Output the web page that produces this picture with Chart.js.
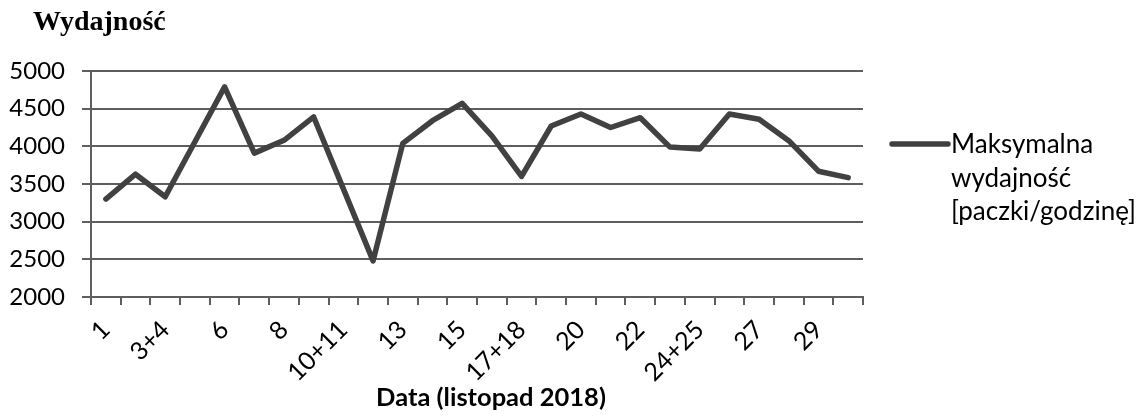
<!DOCTYPE html>
<html>
<head>
<meta charset="utf-8">
<script src="https://cdn.jsdelivr.net/npm/chart.js@4.4.1/dist/chart.umd.min.js"></script>
<style>
  html, body { margin: 0; padding: 0; background: #ffffff; }
  #wrap { width: 1141px; height: 416px; position: relative; }
</style>
</head>
<body>
<div id="wrap"><canvas id="chart" width="1141" height="416"></canvas></div>
<script>
// Days of November 2018 (weekends merged into one entry)
const categories = ['1', '2', '3+4', '5', '6', '7', '8', '9', '10+11', '12', '13', '14', '15',
  '16', '17+18', '19', '20', '21', '22', '23', '24+25', '26', '27', '28', '29', '30'];

// Maximum throughput per day [parcels/hour]
const maxThroughput = [3300, 3630, 3330, 4060, 4790, 3910, 4080, 4390, 3435, 2480, 4040, 4340, 4570,
  4140, 3600, 4270, 4430, 4250, 4380, 3990, 3965, 4430, 4360, 4075, 3670, 3585];

// Value axis ticks
const yTicks = [2000, 2500, 3000, 3500, 4000, 4500, 5000];

// Chart heading, axis caption and series name (split over three lines in the legend)
const headline = 'Wydajność';
const xCaption = 'Data (listopad 2018)';
const seriesLabelLines = ['Maksymalna', 'wydajność', '[paczki/godzinę]'];

const AXIS_GREY = '#5e5e5e';
const LINE_GREY = '#414141';
const SANS = 'Lato, "Noto Sans", sans-serif';

// Heading in the top-left corner and the caption under the category axis
const captionsPlugin = {
  id: 'captions',
  afterDraw(chart) {
    const { ctx, chartArea } = chart;
    ctx.save();
    ctx.fillStyle = '#000000';
    ctx.font = 'bold 28px "Liberation Serif", "Times New Roman", serif';
    ctx.textAlign = 'left';
    ctx.textBaseline = 'alphabetic';
    ctx.fillText(headline, 33, 30);

    ctx.font = 'bold 25.5px ' + SANS;
    ctx.textAlign = 'center';
    ctx.textBaseline = 'middle';
    ctx.fillText(xCaption, (chartArea.left + chartArea.right) / 2 + 14, 398);
    ctx.restore();
  }
};

// Legend on the right: a line sample followed by a three-line caption
const sideLegend = {
  id: 'sideLegend',
  afterDraw(chart) {
    const { ctx, chartArea } = chart;
    const ds = chart.data.datasets[0];
    const x0 = chartArea.right + 29;
    const x1 = x0 + 56;
    const yMid = chartArea.top + 73;
    ctx.save();
    ctx.strokeStyle = ds.borderColor;
    ctx.lineWidth = ds.borderWidth;
    ctx.lineCap = 'round';
    ctx.beginPath();
    ctx.moveTo(x0, yMid);
    ctx.lineTo(x1, yMid);
    ctx.stroke();
    ctx.fillStyle = '#000000';
    ctx.font = '26px ' + SANS;
    ctx.textBaseline = 'middle';
    ctx.textAlign = 'left';
    seriesLabelLines.forEach((line, i) => {
      ctx.fillText(line, x1 + 3, yMid + 1 + i * 33.5);
    });
    ctx.restore();
  }
};

new Chart(document.getElementById('chart'), {
  type: 'line',
  data: {
    labels: categories,
    datasets: [{
      label: seriesLabelLines.join(' '),
      data: maxThroughput,
      borderColor: LINE_GREY,
      backgroundColor: LINE_GREY,
      borderWidth: 5.5,
      borderJoinStyle: 'round',
      borderCapStyle: 'round',
      pointRadius: 0,
      pointHoverRadius: 0,
      tension: 0,
      fill: false
    }]
  },
  options: {
    responsive: false,
    animation: false,
    devicePixelRatio: 1,
    layout: { padding: { left: 0, right: 278, top: 71, bottom: 0 } },
    plugins: {
      legend: { display: false },
      tooltip: { enabled: false },
      title: { display: false }
    },
    scales: {
      x: {
        type: 'category',
        offset: true,
        afterFit(scale) { scale.height = 119; },
        grid: {
          offset: true,
          drawOnChartArea: false,
          drawTicks: true,
          tickLength: 8,
          color: AXIS_GREY,
          lineWidth: 2
        },
        border: { display: true, color: AXIS_GREY, width: 2 },
        ticks: {
          autoSkip: false,
          maxRotation: 45,
          minRotation: 45,
          padding: 10,
          color: '#000000',
          font: { family: SANS, size: 25 },
          callback(value, index) {
            return index % 2 === 0 ? categories[index] : '';
          }
        }
      },
      y: {
        min: yTicks[0],
        max: yTicks[yTicks.length - 1],
        afterFit(scale) { scale.width = 91; },
        afterBuildTicks(scale) { scale.ticks = yTicks.map(v => ({ value: v })); },
        grid: {
          color: AXIS_GREY,
          lineWidth: 2,
          drawTicks: true,
          tickLength: 9
        },
        border: { display: true, color: AXIS_GREY, width: 2 },
        ticks: {
          padding: 17,
          color: '#000000',
          font: { family: SANS, size: 24 },
          callback(value) { return String(value); }
        }
      }
    }
  },
  plugins: [captionsPlugin, sideLegend]
});
</script>
</body>
</html>
